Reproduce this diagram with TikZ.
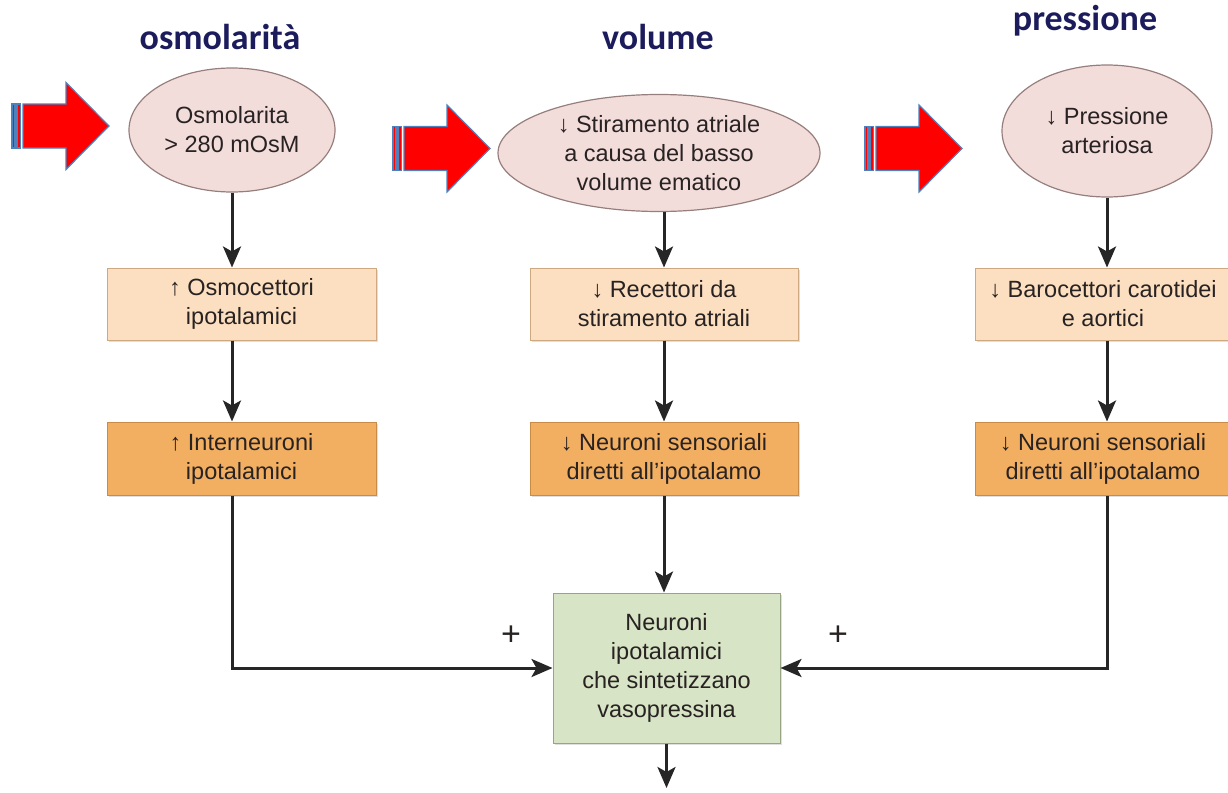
\documentclass[tikz,border=0pt]{standalone}
\usepackage{fontspec}
\setmainfont{Liberation Sans}
\newfontfamily\titlefont{Carlito}
\usepackage{xcolor}
\usetikzlibrary{arrows.meta,positioning,shapes.geometric,shadows}

\definecolor{titleblue}{RGB}{28,28,92}
\definecolor{txtgray}{RGB}{40,34,34}
\definecolor{ellfill}{RGB}{243,221,219}
\definecolor{elldraw}{RGB}{150,126,124}
\definecolor{peachfill}{RGB}{251,223,192}
\definecolor{peachdraw}{RGB}{206,168,128}
\definecolor{orangefill}{RGB}{242,175,98}
\definecolor{orangedraw}{RGB}{200,140,72}
\definecolor{greenfill}{RGB}{215,228,197}
\definecolor{greendraw}{RGB}{150,165,130}
\definecolor{arrowred}{RGB}{255,0,0}
\definecolor{arrowblue}{RGB}{79,129,189}

\tikzset{
    bigarrow/.pic={
        \draw[arrowblue, fill=arrowred, line width=1.2pt, line join=miter]
            (11,-22) -- (54,-22) -- (54,-43.5) -- (97,0) -- (54,43.5) -- (54,22) -- (11,22) -- cycle;
        \draw[arrowblue, fill=arrowred, line width=1.2pt] (0,-22) rectangle (3,22);
        \draw[arrowblue, fill=arrowred, line width=1.2pt] (5,-22) rectangle (8.5,22);
    }
}

\begin{document}
\begin{tikzpicture}[
    x=1pt, y=-1pt,
    >={Stealth[length=21pt,width=18pt,inset=5pt]},
    body/.style={text=txtgray, align=center, font=\fontsize{23.5}{29}\selectfont},
    title/.style={text=titleblue, anchor=base, font=\titlefont\bfseries\fontsize{36}{40}\selectfont},
    stimulus/.style={body, ellipse, draw=elldraw, fill=ellfill, line width=1.2pt, inner sep=0pt},
    sensor/.style={body, draw=peachdraw, fill=peachfill, line width=1pt, minimum height=72pt,
        drop shadow={shadow xshift=1.5pt, shadow yshift=-2pt, opacity=0.25}},
    relay/.style={body, draw=orangedraw, fill=orangefill, line width=1pt, minimum height=73pt,
        drop shadow={shadow xshift=1.5pt, shadow yshift=-2pt, opacity=0.25}},
    target/.style={body, draw=greendraw, fill=greenfill, line width=1pt, minimum width=227pt, minimum height=150pt,
        drop shadow={shadow xshift=1.5pt, shadow yshift=-2pt, opacity=0.25}},
    sign/.style={text=txtgray, font=\fontsize{34}{36}\selectfont},
    line/.style={->, line width=3pt, draw=black!85}
]
\useasboundingbox (0,0) rectangle (1228,792);

% Column titles.
\node[title] (tosm) at (220,49) {osmolarità};
\node[title] (tvol) at (658,49) {volume};
\node[title] (tpres) at (1085,31) {pressione};

% Red striped arrows pointing at the stimuli.
\pic at (12,126) {bigarrow};
\pic at (393,148.5) {bigarrow};
\pic at (865,148.5) {bigarrow};

% Stimuli.
\node[stimulus, minimum width=206pt, minimum height=124pt] (osm) at (232,130) {Osmolarita\\> 280 mOsM};
\node[stimulus, minimum width=322pt, minimum height=117pt] (vol) at (659,153) {↓ Stiramento atriale\\a causa del basso\\volume ematico};
\node[stimulus, minimum width=210pt, minimum height=132pt] (pres) at (1107,131) {↓ Pressione\\arteriosa};

% Receptors.
\node[sensor, minimum width=269pt] (osmrec) at (241.5,304) {↑ Osmocettori\\ipotalamici};
\node[sensor, minimum width=268pt] (volrec) at (664,304) {↓ Recettori da\\stiramento atriali};
\node[sensor, minimum width=256pt] (presrec) at (1103,304) {↓ Barocettori carotidei\\e aortici};

% Afferent neurons.
\node[relay, minimum width=269pt] (osmint) at (241.5,458.5) {↑ Interneuroni\\ipotalamici};
\node[relay, minimum width=268pt] (volsens) at (664,458.5) {↓ Neuroni sensoriali\\diretti all’ipotalamo};
\node[relay, minimum width=256pt] (pressens) at (1103,458.5) {↓ Neuroni sensoriali\\diretti all’ipotalamo};

% Vasopressin neurons.
\node[target] (vaso) at (666.5,668) {Neuroni\\ipotalamici\\che sintetizzano\\vasopressina};
\coordinate (out) at (666.5,788);

% Signs on the converging inputs.
\node[sign] (plusl) at (511,636) {+};
\node[sign] (plusr) at (838,636) {+};

% Arrows.
\draw[line] (osm.south) -- (osm.south |- osmrec.north);
\draw[line] (osm.south |- osmrec.south) -- (osm.south |- osmint.north);
\draw[line] (osm.south |- osmint.south) |- (vaso.west);

\draw[line] (vol.south -| volrec.north) -- (volrec.north);
\draw[line] (volrec.south) -- (volsens.north);
\draw[line] (volsens.south) -- (volsens.south |- vaso.north);

\draw[line] (pres.south) -- (pres.south |- presrec.north);
\draw[line] (pres.south |- presrec.south) -- (pres.south |- pressens.north);
\draw[line] (pres.south |- pressens.south) |- (vaso.east);

\draw[line] (vaso.south) -- (out);

\end{tikzpicture}
\end{document}
